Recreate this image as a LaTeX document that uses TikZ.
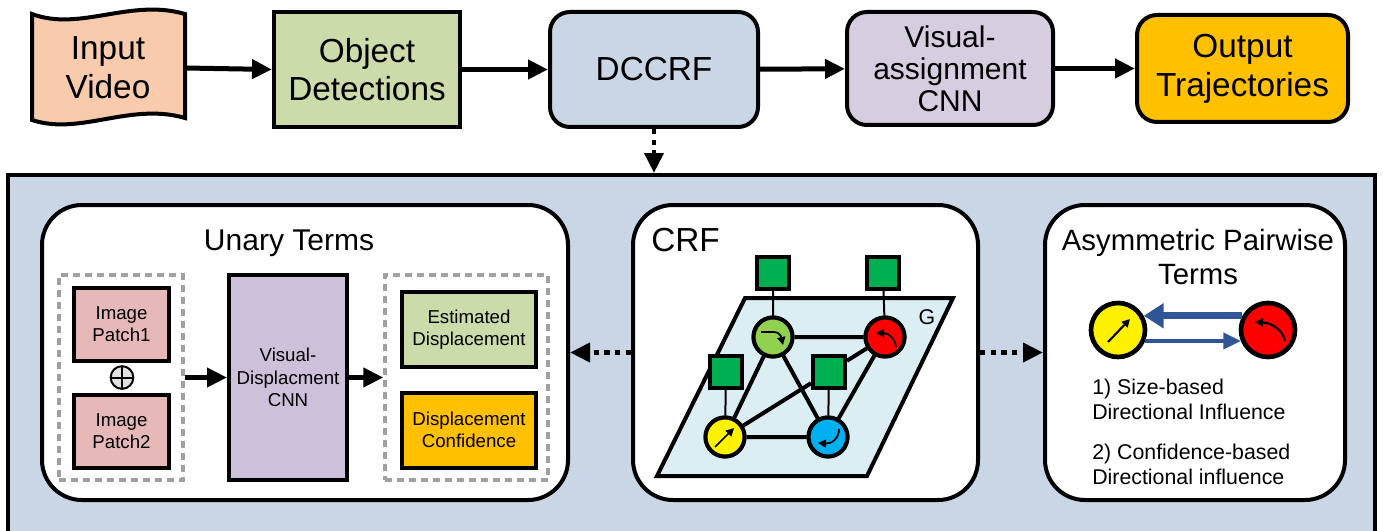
\documentclass[tikz,border=0pt]{standalone}
\usepackage{fontspec}
\setmainfont{Liberation Sans}
\usetikzlibrary{arrows.meta}

\definecolor{peach}{RGB}{248,203,173}
\definecolor{detgreen}{RGB}{203,220,170}
\definecolor{crfblue}{RGB}{200,214,230}
\definecolor{lavender}{RGB}{214,205,225}
\definecolor{cnnpurple}{RGB}{204,192,218}
\definecolor{gold}{RGB}{255,192,0}
\definecolor{patchpink}{RGB}{230,185,184}
\definecolor{planeblue}{RGB}{218,238,243}
\definecolor{nodegreen}{RGB}{146,208,80}
\definecolor{factorgreen}{RGB}{0,176,80}
\definecolor{nodeblue}{RGB}{0,176,240}
\definecolor{darkblue}{RGB}{47,85,151}
\definecolor{dashgray}{RGB}{160,160,160}
\definecolor{opgray}{RGB}{225,225,225}

\tikzset{
  blk/.style={draw, line width=3pt, align=center, inner sep=0pt},
  bigtxt/.style={font=\fontsize{25}{29}\selectfont},
  smalltxt/.style={font=\fontsize{14}{16.5}\selectfont},
  flow/.style={line width=3.75pt, -{Triangle[length=15pt,width=14pt]}},
  dotflow/.style={line width=3.5pt, dash pattern=on 4pt off 4pt, -{Triangle[length=15pt,width=14pt]}},
  panelbox/.style={draw, fill=white, line width=3pt, rounded corners=30pt, inner sep=0pt},
  dashbox/.style={draw=dashgray, line width=2.5pt, dash pattern=on 5pt off 4pt, inner sep=0pt},
  crfnode/.style={circle, draw, line width=3pt, minimum size=29.25pt, inner sep=0pt},
  factor/.style={draw, fill=factorgreen, line width=3pt, minimum size=24pt, inner sep=0pt},
  tinyarrow/.style={line width=1.3pt, -{Triangle[length=6pt,width=6pt]}},
  opsign/.style={circle, draw, fill=opgray, line width=1.5pt, minimum size=17pt, inner sep=0pt,
    path picture={\draw [line width=1.5pt] (path picture bounding box.north) -- (path picture bounding box.south)
      (path picture bounding box.west) -- (path picture bounding box.east);}},
}

\begin{document}
\begin{tikzpicture}[x=0.75pt,y=0.75pt,yscale=-1,xscale=1]
\useasboundingbox (0,0) rectangle (1383,531);

% Input Video (tape shape)
\draw [fill=peach, line width=3pt] (32,14) .. controls (80,32) and (130,-2) .. (185,14) -- (185,118) .. controls (130,102) and (80,136) .. (32,120) -- cycle;
\draw (108,68) node [align=center, bigtxt, minimum width=115pt, minimum height=78pt, inner sep=0pt] (video) {Input\\Video};
% Text Node
\draw (367,69.5) node [blk, bigtxt, fill=detgreen, minimum width=139.5pt, minimum height=86.25pt] (det) {Object\\Detections};
% Text Node
\draw (654,69.5) node [blk, bigtxt, fill=crfblue, rounded corners=15pt, minimum width=156pt, minimum height=86.25pt] (dccrf) {DCCRF};
% Text Node
\draw (950,68.5) node [blk, fill=lavender, rounded corners=15pt, font=\fontsize{22.5}{24}\selectfont, minimum width=154.5pt, minimum height=84.75pt] (vacnn) {Visual-\\assignment\\CNN};
% Text Node
\draw (1242.5,68.5) node [blk, bigtxt, fill=gold, rounded corners=15pt, minimum width=158.25pt, minimum height=80.25pt] (out) {Output\\Trajectories};
% Connection
\draw [flow] (185,68) -- (det.west);
\draw [flow] (det) -- (dccrf);
\draw [flow] (dccrf) -- (vacnn);
\draw [flow] (vacnn) -- (out);

% Panel
\draw (691.5,360) node [draw, fill=crfblue, line width=3pt, minimum width=1025.25pt, minimum height=277.5pt, inner sep=0pt] (panel) {};
% Connection
\draw [dotflow] (dccrf.south) -- (dccrf.south |- panel.north);

% Unary Terms
\draw (305,352.5) node [panelbox, minimum width=394.5pt, minimum height=221.25pt] (unary) {};
\draw (289,243) node [font=\fontsize{22.5}{24}\selectfont] (unarytitle) {Unary Terms};
\draw (121,377.5) node [dashbox, minimum width=93pt, minimum height=153.75pt] (ldash) {};
\draw (121.5,324.5) node [blk, smalltxt, fill=patchpink, minimum width=71.25pt, minimum height=54.75pt] (patch1) {Image\\Patch1};
\draw (121.5,431) node [blk, smalltxt, fill=patchpink, minimum width=71.25pt, minimum height=54.75pt] (patch2) {Image\\Patch2};
\draw (122,377.5) node [opsign] (oplus) {};
\draw (288,377.5) node [blk, font=\fontsize{14}{17}\selectfont, fill=cnnpurple, minimum width=88.5pt, minimum height=153.75pt] (vdcnn) {Visual-\\Displacment\\CNN};
\draw (466.5,377.5) node [dashbox, minimum width=122.25pt, minimum height=153.75pt] (rdash) {};
\draw (469,329.5) node [blk, smalltxt, fill=detgreen, minimum width=100.5pt, minimum height=56.25pt] (estd) {Estimated\\Displacement};
\draw (469,430) node [blk, smalltxt, fill=gold, minimum width=100.5pt, minimum height=56.25pt] (dconf) {Displacement\\Confidence};
% Connection
\draw [flow] (ldash) -- (vdcnn);
\draw [flow] (vdcnn) -- (rdash);

% CRF
\draw (805.5,352.5) node [panelbox, minimum width=258.75pt, minimum height=221.25pt] (crf) {};
\draw (651,240) node [anchor=west, inner sep=0pt, font=\fontsize{25}{28}\selectfont] (crftitle) {CRF};
\draw [fill=planeblue, line width=3pt] (745,298) -- (953,298) -- (867,476) -- (657,476) -- cycle;
\draw (927,317) node [font=\fontsize{16}{18}\selectfont] (glabel) {G};
\draw (773,337) node [crfnode, fill=nodegreen] (ng) {};
\draw (885,337) node [crfnode, fill=red] (nr) {};
\draw (725,437) node [crfnode, fill=yellow] (ny) {};
\draw (828,437) node [crfnode, fill=nodeblue] (nb) {};
\draw (773,273) node [factor] (sg) {};
\draw (883,273) node [factor] (sr) {};
\draw (726,372) node [factor] (sy) {};
\draw (829,372) node [factor] (sb) {};
% Connection
\draw [line width=1.5pt] (sg) -- (ng) (sr) -- (nr) (sy) -- (ny) (sb) -- (nb);
\draw [line width=3pt] (ng) -- (nr) (ng) -- (ny) (ng) -- (nb) (nr) -- (nb) (ny) -- (nb) (ny) -- (sb) (sb) -- (nr);
% redraw nodes on top of the edges
\draw (773,337) node [crfnode, fill=nodegreen] {};
\draw (885,337) node [crfnode, fill=red] {};
\draw (725,437) node [crfnode, fill=yellow] {};
\draw (828,437) node [crfnode, fill=nodeblue] {};
\draw (773,273) node [factor] {};
\draw (883,273) node [factor] {};
\draw (726,372) node [factor] {};
\draw (829,372) node [factor] {};
% motion arrows
\draw [tinyarrow] (761,332) -- (774,332) .. controls (779,332) and (781,336) .. (783,345);
\draw [tinyarrow] (896,347) .. controls (895,339) and (889,333) .. (876,333);
\draw [tinyarrow] (715,447) -- (734,428);
\draw [tinyarrow] (839,429) .. controls (839,438) and (832,444) .. (818,443);

% Asymmetric Pairwise Terms
\draw (1195,352.5) node [panelbox, minimum width=225pt, minimum height=221.25pt] (asym) {};
\draw (1198,257) node [align=center, font=\fontsize{22}{26}\selectfont] (asymtitle) {Asymmetric Pairwise\\Terms};
\draw (1118,330) node [circle, draw, line width=3.5pt, fill=yellow, minimum size=40.5pt, inner sep=0pt] (ay) {};
\draw (1268,330) node [circle, draw, line width=3.5pt, fill=red, minimum size=40.5pt, inner sep=0pt] (ar) {};
% Connection
\draw [darkblue, line width=5.5pt, -{Triangle[length=15pt,width=18pt]}] (ar.151) -- (ay.29);
\draw [darkblue, line width=2.5pt, -{Triangle[length=13pt,width=12pt]}] (ay.-22) -- (ar.-158);
\draw [tinyarrow, line width=1.6pt] (1108,342) -- (1130,319);
\draw [tinyarrow, line width=1.6pt] (1285,341) .. controls (1283,331) and (1273,323) .. (1255,322);
\draw (1092,399.5) node [anchor=west, align=left, inner sep=0pt, font=\fontsize{16}{18.75}\selectfont] (size) {1) Size-based\\Directional Influence};
\draw (1092,464.5) node [anchor=west, align=left, inner sep=0pt, font=\fontsize{16}{18.75}\selectfont] (conf) {2) Confidence-based\\Directional influence};

% Connection
\draw [dotflow] (crf.west) -- (unary.east);
\draw [dotflow] (crf.east) -- (asym.west);

\end{tikzpicture}
\end{document}
